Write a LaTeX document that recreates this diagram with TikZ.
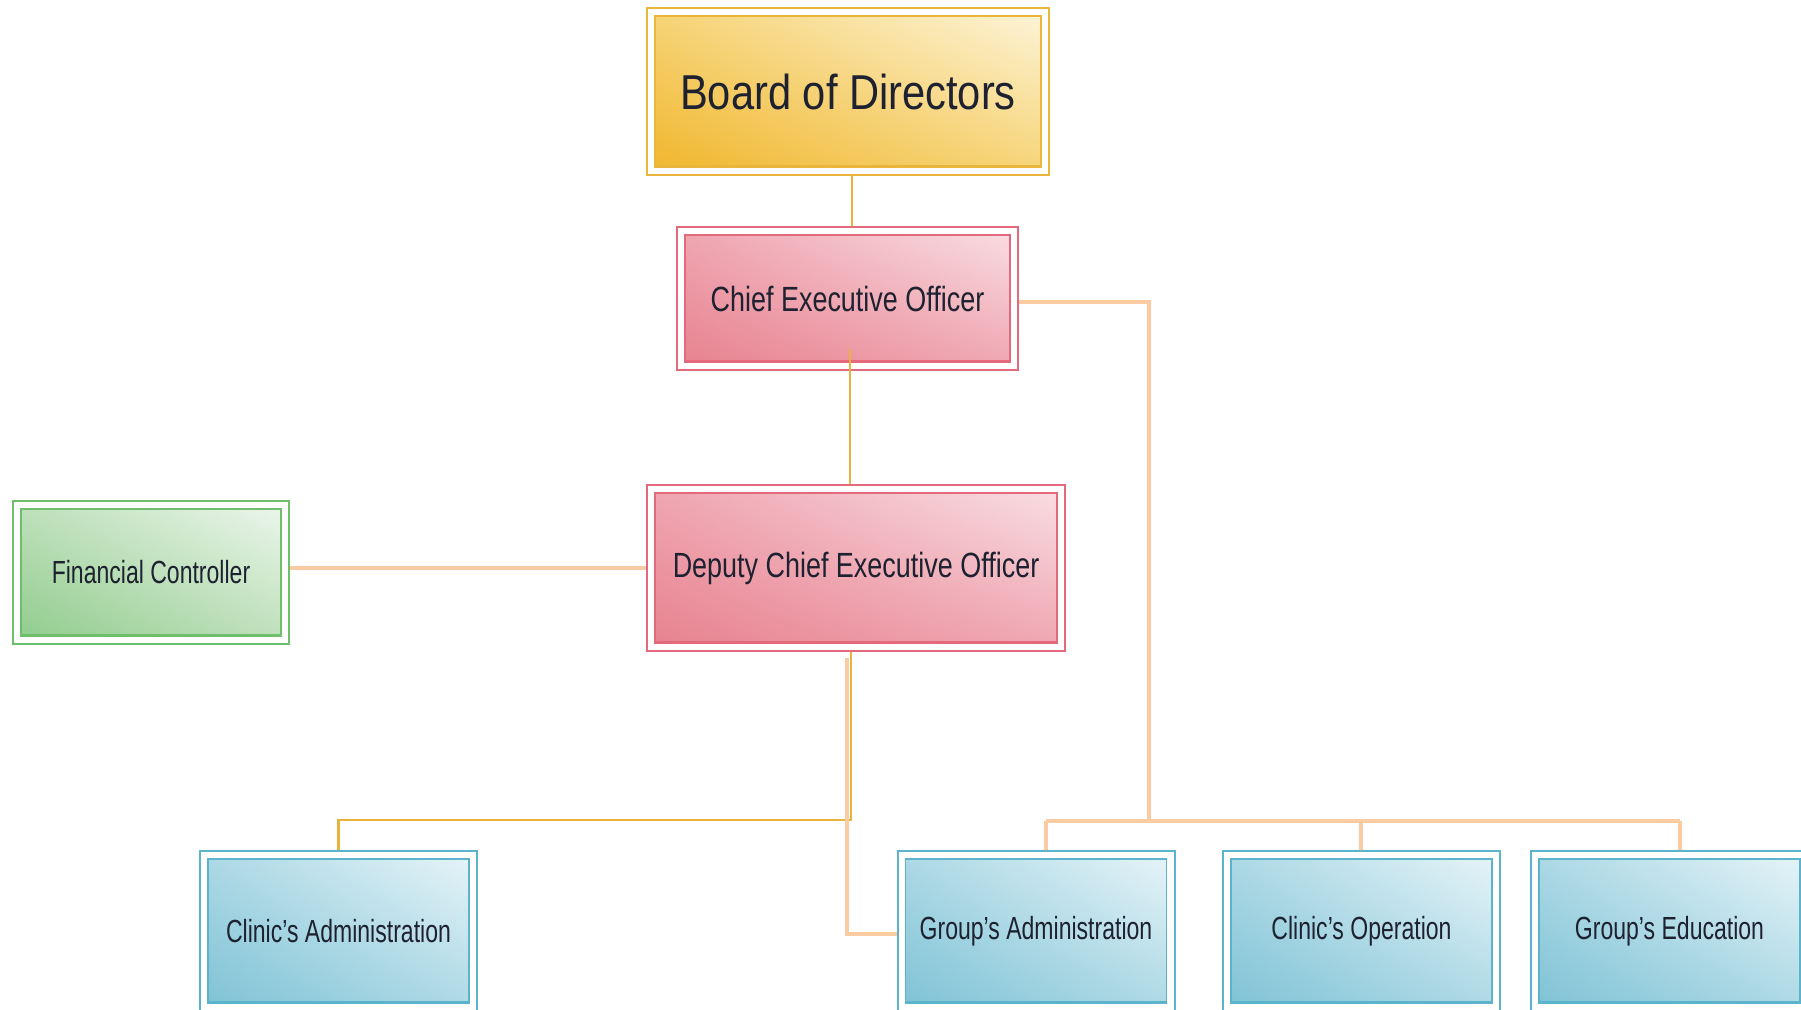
\documentclass[tikz,border=0pt]{standalone}
\usepackage{fontspec}
\setmainfont{Liberation Sans}
\usepackage{graphicx}
\usetikzlibrary{calc,backgrounds,shadings}

% palette: border, dark corner, middle, light corner
\definecolor{gold}{HTML}{E9B53B}\definecolor{goldD}{HTML}{F0B52A}\definecolor{goldM}{HTML}{F6D477}\definecolor{goldL}{HTML}{FDF5DC}
\definecolor{pink}{HTML}{E5697C}\definecolor{pinkD}{HTML}{E7808E}\definecolor{pinkM}{HTML}{EFA6B1}\definecolor{pinkL}{HTML}{F9E0E5}
\definecolor{green}{HTML}{6FBE6B}\definecolor{greenD}{HTML}{8ECB8A}\definecolor{greenM}{HTML}{BEE0BB}\definecolor{greenL}{HTML}{EEF7EE}
\definecolor{blue}{HTML}{5BB4CB}\definecolor{blueD}{HTML}{7CC1D5}\definecolor{blueM}{HTML}{ADD9E5}\definecolor{blueL}{HTML}{E9F5F9}
\definecolor{ink}{HTML}{1E2230}
\definecolor{goldline}{HTML}{E8B23C}
\definecolor{peach}{HTML}{FBCCA2}

\newcommand\narrow[2]{\scalebox{#1}[1]{#2}}

\tikzset{
  orgbox/.style={draw=#1, line width=1pt, fill=white, inner sep=0pt, text=ink,
    path picture={
      \shade[lower left=#1D, upper right=#1L, upper left=#1M, lower right=#1M]
        ([shift={(4pt,4pt)}]path picture bounding box.south west)
        rectangle ([shift={(-4pt,-4pt)}]path picture bounding box.north east);
      \draw[#1, line width=0.8pt]
        ([shift={(4pt,4pt)}]path picture bounding box.south west)
        rectangle ([shift={(-4pt,-4pt)}]path picture bounding box.north east);
      \draw[#1, line width=1.6pt]
        ([shift={(4pt,4.4pt)}]path picture bounding box.south west)
        -- ([shift={(-4pt,4.4pt)}]path picture bounding box.south east);
    }},
  topfont/.style={font=\fontsize{24.5}{29}\selectfont},
  midfont/.style={font=\fontsize{17.5}{21}\selectfont},
  lowfont/.style={font=\fontsize{16}{19}\selectfont},
  goldwire/.style={draw=goldline, line width=1.4pt},
  peachwire/.style={draw=peach, line width=1.6pt},
}

\begin{document}
\begin{tikzpicture}[x=0.5pt, y=-0.5pt]
  \useasboundingbox (0,0) rectangle (1801,1009);

  % boxes
  \node[orgbox=gold, topfont, minimum width=201pt, minimum height=83.5pt] (board) at (848,91.5)
    {\narrow{0.85}{Board of Directors}};
  \node[orgbox=pink, midfont, minimum width=170.5pt, minimum height=71.5pt] (ceo) at (847.5,298.5)
    {\narrow{0.77}{Chief Executive Officer}};
  \node[orgbox=pink, midfont, minimum width=209pt, minimum height=83pt] (dceo) at (856,568)
    {\narrow{0.77}{Deputy Chief Executive Officer}};
  \node[orgbox=green, lowfont, minimum width=138pt, minimum height=71.5pt] (fc) at (151,572.5)
    {\narrow{0.72}{Financial Controller}};
  \node[orgbox=blue, lowfont, minimum width=138.5pt, minimum height=80pt] (ca) at (338.5,931)
    {\narrow{0.72}{Clinic’s Administration}};
  \node[orgbox=blue, lowfont, minimum width=138.5pt, minimum height=80pt] (ga) at (1036,931)
    {\narrow{0.72}{Group’s Administration}};
  \node[orgbox=blue, lowfont, minimum width=138.5pt, minimum height=80pt] (co) at (1361.5,931)
    {\narrow{0.72}{Clinic’s Operation}};
  \node[orgbox=blue, lowfont, minimum width=138.5pt, minimum height=80pt] (ge) at (1669.5,931)
    {\narrow{0.72}{Group’s Education}};

  % branch points
  \coordinate (boardTap) at (852,0);
  \coordinate (ceoTap) at (850,0);
  \coordinate (ceoOut) at (0,302);
  \coordinate (leftBus) at (851,820);
  \coordinate (gaTap) at (847,0);
  \coordinate (gaIn) at (0,934);
  \coordinate (rightBus) at (1149,821);
  \coordinate (gaDrop) at (1046,821);
  \coordinate (coDrop) at (1361,821);
  \coordinate (geDrop) at (1680,821);

  \begin{scope}[on background layer]
    \fill[white] (0,0) rectangle (1801,1009);
    \draw[goldwire] (board.south -| boardTap) -- (ceo.north -| boardTap);
    \draw[peachwire] (dceo.west) -- (dceo.west -| fc.east);
    \draw[goldwire] (dceo.south -| leftBus) -- (leftBus) -| (ca.north);
    \draw[peachwire] ($(dceo.south -| gaTap)+(0,6)$) |- (ga.west |- gaIn);
    \draw[peachwire] (ceo.east |- ceoOut) -- (rightBus |- ceoOut) -- (rightBus);
    \draw[peachwire] (gaDrop) -- (geDrop);
    \draw[peachwire] (gaDrop) -- (gaDrop |- ga.north);
    \draw[peachwire] (coDrop) -- (coDrop |- co.north);
    \draw[peachwire] (geDrop) -- (geDrop |- ge.north);
  \end{scope}
  % this link starts inside the officer box
  \draw[goldwire] ($(ceo.south -| ceoTap)+(0,-22)$) -- (dceo.north -| ceoTap);
\end{tikzpicture}
\end{document}
